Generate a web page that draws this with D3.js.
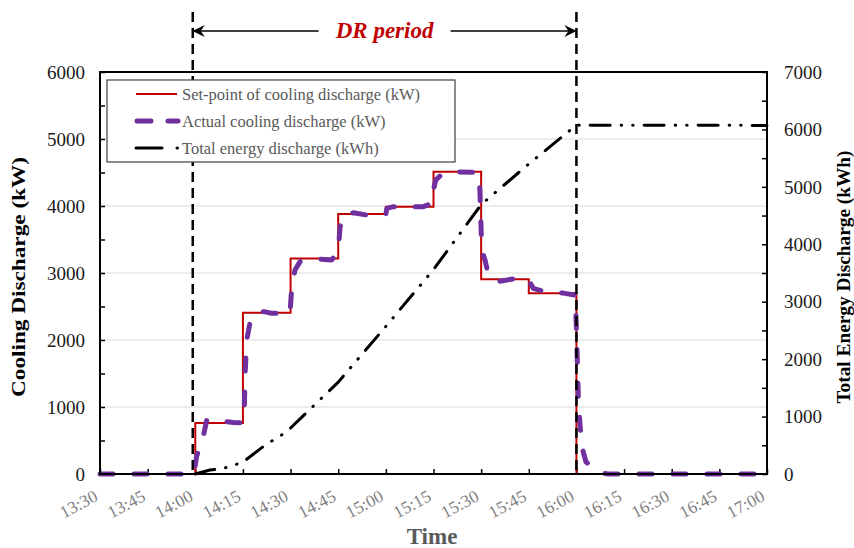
<!DOCTYPE html>
<html><head><meta charset="utf-8">
<script src="https://cdn.jsdelivr.net/npm/d3@7"></script>
<style>body{margin:0;background:#fff}svg{display:block}text{font-family:"Liberation Serif","Times New Roman",serif}</style>
</head><body><svg id="c" width="854" height="548"></svg>
<script>
// ---- data (time = minutes after 13:30) ----
const startClock = "13:30";
const xTickLabels = ["13:30","13:45","14:00","14:15","14:30","14:45","15:00","15:15","15:30","15:45","16:00","16:15","16:30","16:45","17:00"];
const leftTicks = [0,1000,2000,3000,4000,5000,6000];
const rightTicks = [0,1000,2000,3000,4000,5000,6000,7000];
const drStart = 29.2, drEnd = 150;
// set-point steps: [start time, kW]
const setpointTimes = [0, 30, 45, 60, 75, 90, 105, 120, 135, 150, 210];
const setpointValues = [0, 762, 2405, 3215, 3880, 3990, 4510, 2905, 2698, 0, 0];
// actual cooling discharge
const actualTimes = [0,29.6,30.4,32.5,33.6,35.2,38,42,45.1,45.4,45.7,46.2,47.2,49.3,52,54,59.8,60.4,61.4,63,68.2,73,75,75.6,76.6,79.8,84,90,90.3,92.4,101.8,104.7,105,105.7,108,111.3,119.1,119.6,119.9,120.2,121.2,122.3,124.9,131.2,134.9,136.4,140.1,145.9,149.6,150,150.3,150.6,151.1,151.7,153,157.4,160,210];
const actualValues = [0,0,260,560,800,820,790,770,765,910,1500,2000,2250,2420,2420,2400,2390,2800,3045,3170,3210,3195,3340,3690,3865,3900,3865,3875,3965,3990,3990,4045,4240,4390,4490,4510,4500,4240,3790,3345,3195,2970,2870,2920,2905,2770,2720,2700,2670,2150,1650,1150,757,410,180,20,0,0];
// total energy discharge (kWh)
const energyTimes = [30, 34.6, 38.7, 42.5, 45, 49.3, 52.8, 56.5, 60, 75, 90, 105, 120, 135, 150, 210];
const energyValues = [0, 70, 95, 160, 205, 390, 535, 650, 800, 1600, 2570, 3560, 4690, 5400, 6075, 6070];
const legendLabels = ["Set-point of cooling discharge (kW)","Actual cooling discharge (kW)","Total energy discharge (kWh)"];

// ---- chart ----
const svg = d3.select("#c");
const M = {l:100, r:767, t:72, b:474};
const x = d3.scaleLinear().domain([0,210]).range([M.l, M.r]);
const yL = d3.scaleLinear().domain([0,6000]).range([M.b, M.t]);
const yR = d3.scaleLinear().domain([0,7000]).range([M.b, M.t]);
const red="#c00000", purple="#7030a0";

// gridlines
svg.append("g").selectAll("line").data(leftTicks.filter(d=>d>0&&d<6000)).join("line")
  .attr("x1",M.l).attr("x2",M.r).attr("y1",d=>yL(d)).attr("y2",d=>yL(d))
  .attr("stroke","#d9d9d9").attr("stroke-width",1.2);

// axes (ticks inward)
const gl = svg.append("g").attr("transform",`translate(${M.l},0)`)
  .call(d3.axisRight(yL).tickValues(d3.range(0,6001,500)).tickSize(5).tickFormat(""));
const gr = svg.append("g").attr("transform",`translate(${M.r},0)`)
  .call(d3.axisLeft(yR).tickValues(d3.range(0,7001,500)).tickSize(5).tickFormat(""));
const gb = svg.append("g").attr("transform",`translate(0,${M.b})`)
  .call(d3.axisTop(x).tickValues(d3.range(0,211,15)).tickSize(5).tickFormat(""));
[gl,gr,gb].forEach(g=>{g.select(".domain").remove();g.selectAll("line").attr("stroke","#000").attr("stroke-width",1.5);});

// tick labels
svg.append("g").selectAll("text").data(leftTicks).join("text")
  .attr("x",85).attr("y",d=>yL(d)).attr("dy","0.35em").attr("text-anchor","end")
  .attr("font-size",19).attr("fill","#1a1a1a").text(d=>d);
svg.append("g").selectAll("text").data(rightTicks).join("text")
  .attr("x",784).attr("y",d=>yR(d)).attr("dy","0.35em").attr("text-anchor","start")
  .attr("font-size",19).attr("fill","#1a1a1a").text(d=>d);
svg.append("g").selectAll("text").data(xTickLabels).join("text")
  .attr("transform",(d,i)=>`translate(${x(i*15)-1},${M.b+26}) rotate(-28)`)
  .attr("text-anchor","end")
  .attr("font-size",17.5).attr("fill","#7f7f7f").text(d=>d);

// axis titles
svg.append("text").attr("x",432).attr("y",544).attr("text-anchor","middle")
  .attr("font-size",23).attr("font-weight","bold").attr("fill","#595959").text("Time");
svg.append("text").attr("transform","translate(25,277) rotate(-90)").attr("text-anchor","middle")
  .attr("font-size",19).attr("font-weight","bold").attr("fill","#000")
  .attr("textLength",240).attr("lengthAdjust","spacingAndGlyphs").text("Cooling Discharge (kW)");
svg.append("text").attr("transform","translate(850,277) rotate(-90)").attr("text-anchor","middle")
  .attr("font-size",19).attr("font-weight","bold").attr("fill","#000")
  .attr("textLength",253).attr("lengthAdjust","spacingAndGlyphs").text("Total Energy Discharge (kWh)");

// series
const setData = setpointTimes.map((t,i)=>[t,setpointValues[i]]);
svg.append("path").datum(setData)
  .attr("d",d3.line().x(d=>x(d[0])).y(d=>yL(d[1])).curve(d3.curveStepAfter))
  .attr("fill","none").attr("stroke",red).attr("stroke-width",2);
const actData = actualTimes.map((t,i)=>[t,actualValues[i]]);
svg.append("path").datum(actData)
  .attr("d",d3.line().x(d=>x(d[0])).y(d=>yL(d[1])))
  .attr("fill","none").attr("stroke",purple).attr("stroke-width",5)
  .attr("stroke-linecap","round").attr("stroke-linejoin","round").attr("stroke-dasharray","13,21");
const enData = energyTimes.map((t,i)=>[t,energyValues[i]]);
svg.append("path").datum(enData)
  .attr("d",d3.line().x(d=>x(d[0])).y(d=>yR(d[1])))
  .attr("fill","none").attr("stroke","#000").attr("stroke-width",3)
  .attr("stroke-linecap","round").attr("stroke-dasharray","20,11,0.5,11,0.5,11");

// frame
svg.append("rect").attr("x",M.l).attr("y",M.t).attr("width",M.r-M.l).attr("height",M.b-M.t)
  .attr("fill","none").attr("stroke","#000").attr("stroke-width",2);

// DR lines
[drStart, drEnd].forEach(t=>{
  svg.append("line").attr("x1",x(t)).attr("x2",x(t)).attr("y1",12).attr("y2",M.b)
    .attr("stroke","#000").attr("stroke-width",2.5).attr("stroke-dasharray","10,6");
});
const defs = svg.append("defs");
defs.append("marker").attr("id","ah").attr("viewBox","0 0 12 12").attr("refX",11).attr("refY",6)
  .attr("markerWidth",12).attr("markerHeight",12).attr("markerUnits","userSpaceOnUse").attr("orient","auto")
  .append("path").attr("d","M0,0 L12,6 L0,12 L4,6 Z").attr("fill","#000");
const midX = (x(drStart)+x(drEnd))/2;
svg.append("line").attr("x1",midX-66).attr("x2",x(drStart)+1).attr("y1",31).attr("y2",31)
  .attr("stroke","#000").attr("stroke-width",1.5).attr("marker-end","url(#ah)");
svg.append("line").attr("x1",midX+66).attr("x2",x(drEnd)-1).attr("y1",31).attr("y2",31)
  .attr("stroke","#000").attr("stroke-width",1.5).attr("marker-end","url(#ah)");
svg.append("text").attr("x",midX).attr("y",38).attr("text-anchor","middle")
  .attr("font-size",23).attr("font-weight","bold").attr("font-style","italic").attr("fill",red).text("DR period");

// legend
const lg = svg.append("g");
lg.append("rect").attr("x",107).attr("y",80).attr("width",348).attr("height",82)
  .attr("fill","#fff").attr("stroke","#404040").attr("stroke-width",1.2);
const ly = [94,121,148];
lg.append("line").attr("x1",136).attr("x2",177).attr("y1",ly[0]).attr("y2",ly[0]).attr("stroke",red).attr("stroke-width",2);
lg.append("line").attr("x1",137).attr("x2",178).attr("y1",ly[1]).attr("y2",ly[1]).attr("stroke",purple).attr("stroke-width",5)
  .attr("stroke-linecap","round").attr("stroke-dasharray","14,17");
lg.append("line").attr("x1",136).attr("x2",178).attr("y1",ly[2]).attr("y2",ly[2]).attr("stroke","#000").attr("stroke-width",3)
  .attr("stroke-linecap","round").attr("stroke-dasharray","26,15,0.5,20");
lg.selectAll("text.l").data(legendLabels).join("text").attr("class","l")
  .attr("x",182).attr("y",(d,i)=>ly[i]).attr("dy","0.35em").attr("font-size",16.5).attr("fill","#595959").text(d=>d);
</script></body></html>
